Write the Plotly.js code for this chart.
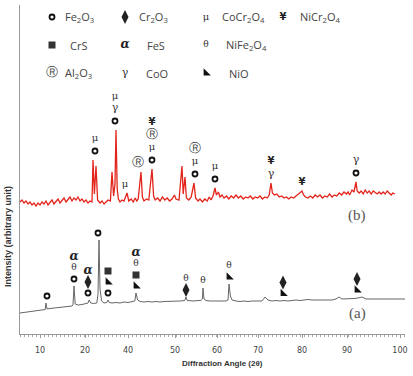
<!DOCTYPE html>
<html>
<head>
<meta charset="utf-8">
<script src="https://cdn.plot.ly/plotly-3.0.1.min.js"></script>
<style>html,body{margin:0;padding:0;background:#fff;}#chart{width:413px;height:376px;}</style>
</head>
<body>
<div id="chart"></div>
<script>
// ---- Data (diffraction angle, intensity in arbitrary units) ----
const redX = [5.0,5.5,6.0,6.5,7.0,7.5,8.0,8.5,9.0,9.5,10.0,10.5,11.0,11.5,12.0,12.5,13.0,13.5,14.0,14.5,15.0,15.5,16.0,16.5,17.0,17.5,18.0,18.5,19.0,19.5,20.0,20.5,21.0,21.5,22.0,22.5,23.0,23.25,23.6,24.0,24.4,25.0,25.5,26.0,26.5,27.0,27.6,28.0,28.4,28.75,29.0,29.3,29.6,30.0,30.5,31.0,31.75,32.2,32.8,33.3,33.8,34.2,34.55,35.25,35.6,36.0,36.6,37.2,38.0,38.4,38.8,39.4,40.0,40.6,41.2,41.8,42.4,43.0,43.6,44.0,44.75,45.5,45.8,46.25,46.6,47.2,47.8,48.5,48.9,49.5,50.0,50.6,51.2,51.8,52.3,52.75,53.25,53.75,54.1,54.6,55.0,55.5,56.0,56.6,57.2,57.8,58.4,59.0,59.6,60.2,60.8,61.4,62.0,62.6,63.2,63.8,64.4,65.0,65.6,66.2,66.8,67.3,67.75,68.1,68.6,69.2,69.8,70.4,71.0,71.6,72.2,72.8,73.4,74.0,74.75,75.5,75.9,76.4,77.0,77.6,78.2,78.8,79.4,80.0,80.6,81.2,81.8,82.4,83.0,83.6,84.2,84.8,85.4,86.0,86.6,87.0,87.4,88.0,88.5,89.0,89.3,89.8,90.3,90.8,91.3,91.8,92.3,92.8,93.3,93.8,94.3,94.8,95.3,95.8,96.3,96.8,97.3,97.8,98.2,98.75];
const redY = [132,134,131,133,130,132,129,131,128,131,129,132,130,133,129,131,134,130,132,135,131,133,136,132,134,137,133,136,134,137,133,135,132,134,131,133,132,174,140,168,134,131,133,130,132,134,133,162,138,150,204,145,135,132,134,133,141,133,135,132,136,133,135,162,137,133,135,134,165,138,134,136,133,137,134,136,133,135,139,135,134,168,140,157,136,134,137,151,136,133,135,132,135,133,137,134,138,146,139,142,137,139,136,138,135,138,136,139,136,138,135,137,136,138,135,137,136,138,135,137,136,139,151,141,139,140,137,138,136,137,135,137,136,138,141,143,139,137,136,138,136,139,137,139,136,138,137,140,137,139,138,141,139,142,140,142,139,144,142,152,143,141,143,140,144,141,143,140,143,141,140,142,140,142,140,143,141,139,141,140];
const grayX = [5.0,6.0,7.0,8.0,9.0,10.0,11.0,11.3,11.5,11.75,12.5,13.5,14.5,15.5,16.5,17.5,18.0,18.25,18.5,18.8,19.5,20.5,21.5,22.0,22.3,22.7,23.4,24.2,24.5,24.75,25.0,25.4,26.0,26.7,27.0,27.3,28.0,29.0,30.0,31.0,32.0,33.0,33.7,34.0,34.4,35.0,36.0,37.0,38.0,39.0,40.0,41.0,42.0,43.0,44.0,45.0,46.2,46.5,46.8,47.5,48.5,49.5,50.2,50.6,50.75,51.0,51.5,52.5,53.5,54.5,55.5,56.5,57.0,57.25,57.6,58.0,59.0,60.0,61.0,62.0,63.0,64.0,65.0,65.5,66.25,67.0,68.0,69.0,70.0,71.0,72.0,73.0,74.0,75.0,76.0,77.0,78.0,79.0,80.0,81.0,82.0,83.0,84.0,84.75,85.5,86.5,87.5,88.5,89.5,90.5,91.5,92.5,93.5,94.5,95.5,96.5,97.5,98.5,99.5,100.5,101.25];
const grayY = [21,21.5,22,22.5,23,23.5,24,24.5,31,25,25.5,26,26.5,27,27.5,28,28,29,48,30,29,29.5,30,31,34,31,30.5,31,40,94,45,33,31,31.5,34,31.5,31,31.5,31,32,31.5,32,33,41,34,32.5,32,32.5,32,32.5,32,32.5,32.5,32.5,33,33,33.5,37,33.5,33,33,33.5,33.5,35,46,35,33.5,33,33,33,33.5,33,34,50,38,34,33,32.5,33,32.5,33,33,33.5,33,37,34,33,33.5,33,33.5,33,33.5,34,33.5,34,34.5,34,34,34.5,34,34.5,34,35,37,35,35,35.5,35.5,36,37,35,35,35.5,35,35.5,35,35.5,35,35.5,35,35];

// ---- Peak labels ----
const redLabelX = [23.75, 28.75, 31.25, 34.5, 38.0, 48.75, 53.75, 67.75, 75.5, 89.0];
const redLabelStack = ['o m', 'o g m', 'm', 'R', 'o m R y', 'o m R', 'o m', 'g y', 'y', 'o g'];
const grayLabelX = [11.75, 18.5, 22.0, 24.5, 27.0, 34.0, 46.5, 50.75, 57.25, 70.75, 89.25];
const grayLabelStack = ['o', 'o t a', 'o C a', 'o', 'o n s', 'n s t a', 'C t', 't', 'n t', 'n C', 'n C'];

// ---- Key ----
const keySym = ['o','C','m','y','s','a','t','R','g','n'];
const keyName = ['Fe<sub>2</sub>O<sub>3</sub>','Cr<sub>2</sub>O<sub>3</sub>','CoCr<sub>2</sub>O<sub>4</sub>','NiCr<sub>2</sub>O<sub>4</sub>','CrS','FeS','NiFe<sub>2</sub>O<sub>4</sub>','Al<sub>2</sub>O<sub>3</sub>','CoO','NiO'];
const keyCol = [0,1,2,3,0,1,2,0,1,2];
const keyRow = [0,0,0,0,1,1,1,2,2,2];
const keyColX = [13, 31.25, 51.5, 70.75];
const keyRowY = [317, 289, 261];
const keyNameGap = [2.75, 3, 3.5, 3.75, 4, 5, 4.5, 2.75, 4.75, 5.25];

const tickVals = [10, 21.25, 32, 43.75, 54.25, 64.5, 75.5, 86.75, 100];
const tickText = ['10','20','40','50','60','70','80','90','100'];

// ---- symbol styles ----
const symStyle = {
  o: {kind:'marker', marker:{symbol:'circle-open', size:5, color:'#111', line:{width:1.8, color:'#111'}}},
  C: {kind:'marker', marker:{symbol:'diamond-tall', size:10, color:'#222'}},
  s: {kind:'marker', marker:{symbol:'square', size:7, color:'#333'}},
  n: {kind:'marker', marker:{symbol:'triangle-sw', size:8, color:'#111'}},
  m: {kind:'text', text:'μ', font:{family:'DejaVu Serif', size:10, color:'#333'}},
  g: {kind:'text', text:'γ', font:{family:'DejaVu Serif', size:11, color:'#333'}},
  a: {kind:'text', text:'<i>α</i>', font:{family:'DejaVu Serif', size:12, color:'#222', weight:'bold'}},
  t: {kind:'text', text:'θ', font:{family:'DejaVu Serif', size:9, color:'#333'}},
  R: {kind:'text', text:'Ⓡ', font:{family:'DejaVu Sans', size:12, color:'#444'}},
  y: {kind:'text', text:'¥', font:{family:'DejaVu Sans', size:10, color:'#222', weight:'bold'}}
};

const pts = {}; Object.keys(symStyle).forEach(k => pts[k] = {x:[], y:[]});

function peakTop(xs, ys, x0){
  let m = -Infinity;
  xs.forEach((x,i)=>{ if (Math.abs(x-x0) <= 1.3 && ys[i] > m) m = ys[i]; });
  return m;
}
function addStacks(lx, stacks, xs, ys, gap, step){
  lx.forEach((x0, i) => {
    const top = peakTop(xs, ys, x0);
    stacks[i].split(' ').forEach((s, k) => {
      pts[s].x.push(x0); pts[s].y.push(top + gap + k*step);
    });
  });
}
addStacks(redLabelX, redLabelStack, redX, redY, 9, 12.5);
addStacks(grayLabelX, grayLabelStack, grayX, grayY, 7, 11);
keySym.forEach((s,i) => { pts[s].x.push(keyColX[keyCol[i]]); pts[s].y.push(keyRowY[keyRow[i]]); });

const traces = [
  {x: grayX, y: grayY, type:'scatter', mode:'lines', line:{color:'#666', width:1}, hoverinfo:'skip'},
  {x: redX, y: redY, type:'scatter', mode:'lines', line:{color:'#e3241b', width:1.3}, hoverinfo:'skip'}
];
Object.keys(symStyle).forEach(k => {
  const st = symStyle[k];
  if (st.kind === 'marker') {
    traces.push({x: pts[k].x, y: pts[k].y, type:'scatter', mode:'markers', marker: st.marker, cliponaxis:false, hoverinfo:'skip'});
  } else {
    traces.push({x: pts[k].x, y: pts[k].y, type:'scatter', mode:'text', text: pts[k].x.map(()=>st.text), textfont: st.font, textposition:'middle center', cliponaxis:false, hoverinfo:'skip'});
  }
});

const annotations = keyName.map((nm,i) => ({
  x: keyColX[keyCol[i]] + keyNameGap[i], y: keyRowY[keyRow[i]], xref:'x', yref:'y',
  text: nm, showarrow:false, xanchor:'left', yanchor:'middle',
  font:{family:'Open Sans', size:11, color:'#444'}
}));
annotations.push(
  {x:89.25, y:119, xref:'x', yref:'y', text:'(b)', showarrow:false, font:{family:'Liberation Serif', size:15, color:'#555'}},
  {x:89.25, y:21, xref:'x', yref:'y', text:'(a)', showarrow:false, font:{family:'Liberation Serif', size:15, color:'#555'}},
  {x:-0.031, y:0.295, xref:'paper', yref:'paper', xanchor:'center', yanchor:'middle', text:'Intensity (arbitrary unit)', textangle:-90, showarrow:false,
   font:{family:'Liberation Sans', size:9, color:'#333', weight:'bold'}},
  {x:0.525, y:-0.091, xref:'paper', yref:'paper', xanchor:'center', yanchor:'middle', text:'Diffraction Angle (2θ)', showarrow:false,
   font:{family:'Liberation Sans', size:8, color:'#333', weight:'bold'}}
);

const layout = {
  width:413, height:376,
  margin:{l:20, r:8, t:5, b:42},
  paper_bgcolor:'#fff', plot_bgcolor:'#fff',
  showlegend:false,
  xaxis:{range:[5,101.25], showline:true, linecolor:'#999', linewidth:1, showgrid:false, zeroline:false,
    tickmode:'array', tickvals:tickVals, ticktext:tickText, ticks:'outside', ticklen:3, tickcolor:'#999',
    ticklabelstandoff:5, tickfont:{family:'DejaVu Sans', size:8, color:'#444'},
    minor:{tickmode:'linear', tick0:5, dtick:1, ticks:'outside', ticklen:2, tickcolor:'#aaa', showgrid:false}},
  yaxis:{range:[0,329], showline:true, linecolor:'#999', linewidth:1, showgrid:false, zeroline:false,
    showticklabels:false, ticks:''},
  annotations: annotations
};
Plotly.newPlot('chart', traces, layout, {staticPlot:true, displayModeBar:false});
</script>
</body>
</html>
